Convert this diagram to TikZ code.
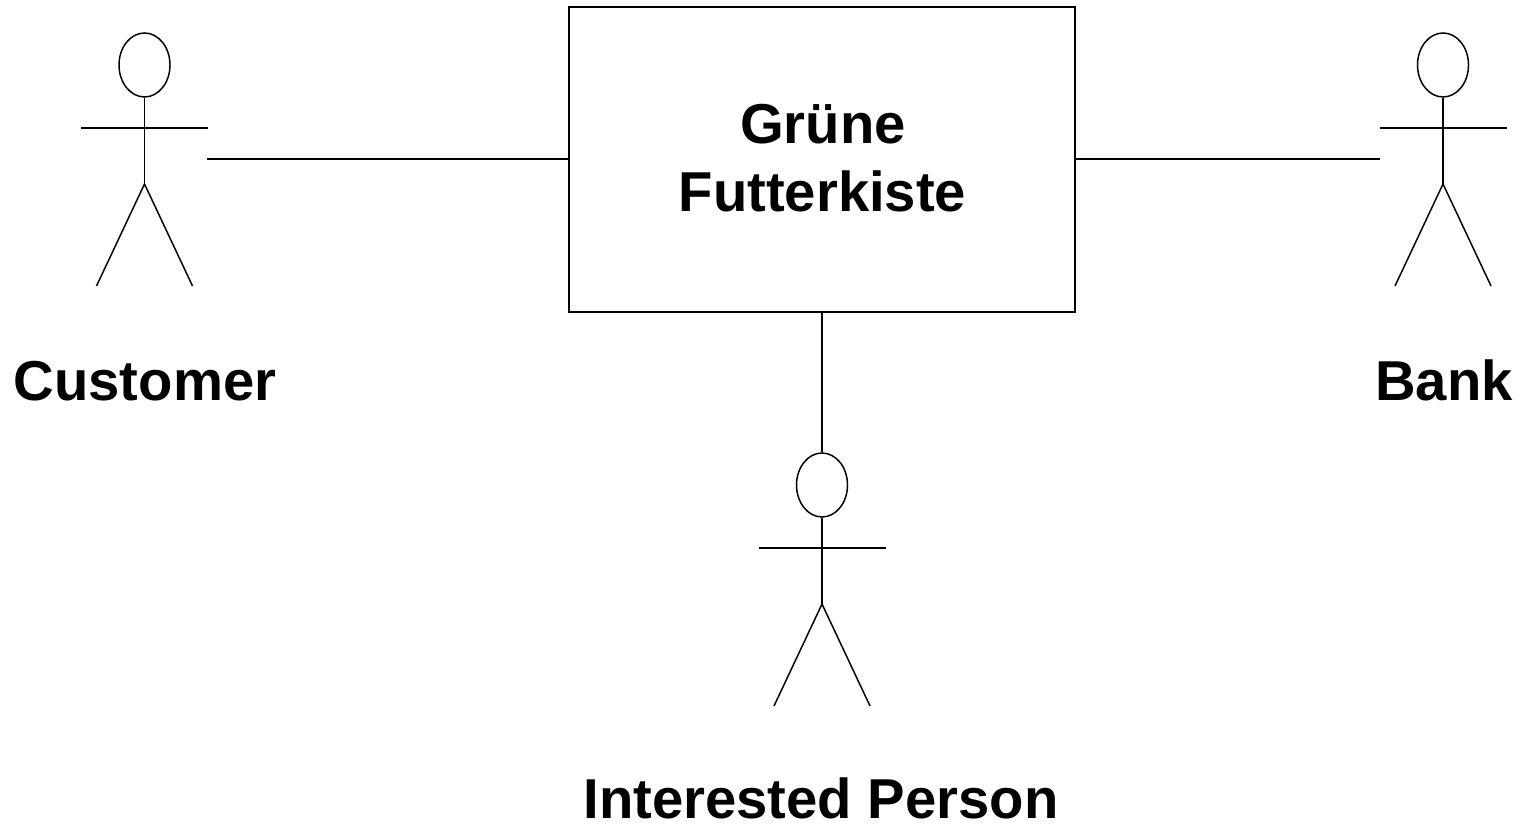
\documentclass[tikz,border=0pt]{standalone}
\usepackage{fontspec}
\setmainfont{Liberation Sans}
\usetikzlibrary{positioning,shapes.geometric}
\tikzset{
  headshape/.style={draw,ellipse,minimum width=0.51cm,minimum height=0.64cm,inner sep=0pt},
  systembox/.style={draw,minimum width=5.06cm,minimum height=3.05cm,inner sep=0pt},
  actorlabel/.style={font=\fontsize{16}{19}\selectfont\bfseries,inner sep=0pt},
  thinline/.style={line width=0.42pt}
}
\begin{document}
\begin{tikzpicture}
\useasboundingbox (0,0) rectangle (15.19,8.23);
% system
\node[systembox,thinline] (kiste) at (8.22,6.635) {};
\node[actorlabel] (gruene) at (8.23,6.99) {Grüne};
\node[actorlabel] (futter) at (8.225,6.32) {Futterkiste};
% actors
\foreach \name/\x/\y in {customer/1.445/7.58,bank/14.43/7.58,person/8.22/3.38}{
  \node[headshape,thinline] (\name head) at (\x,\y) {};
  \coordinate (\name hip) at (\x,\y-1.19);
  \coordinate (\name left) at (\x-0.635,\y-0.63);
  \coordinate (\name right) at (\x+0.635,\y-0.63);
  \coordinate (\name lfoot) at (\x-0.48,\y-2.21);
  \coordinate (\name rfoot) at (\x+0.48,\y-2.21);
  \draw[thinline] (\name head.south) -- (\name hip);
  \draw[thinline] (\name left) -- (\name right);
  \draw[thinline] (\name lfoot) -- (\name hip) -- (\name rfoot);
}
\node[actorlabel] (customerlabel) at (1.45,4.42) {Customer};
\node[actorlabel] (banklabel) at (14.44,4.43) {Bank};
\node[actorlabel] (personlabel) at (8.21,0.25) {Interested Person};
% connectors
\coordinate (customerend) at (2.07,6.64);
\coordinate (bankend) at (13.8,6.64);
\draw[thinline] (customerend) -- (customerend -| kiste.west);
\draw[thinline] (kiste.east |- bankend) -- (bankend);
\draw[thinline] (kiste.south) -- (personhead.north);
\end{tikzpicture}
\end{document}
